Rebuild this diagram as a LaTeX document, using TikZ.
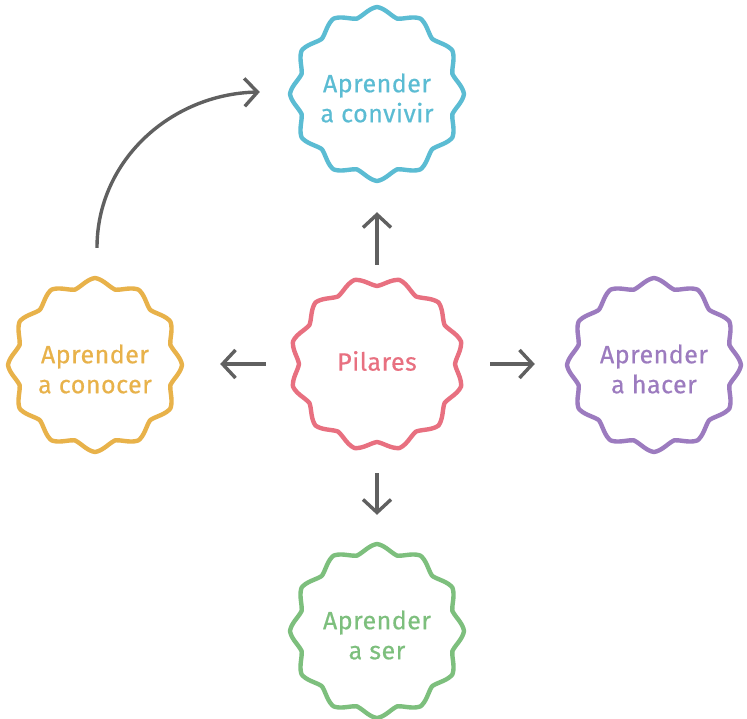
\documentclass[tikz,border=0pt]{standalone}
\usepackage{fontspec}
\setmainfont{Fira Sans}[LetterSpace=2,FakeBold=0.5]
\usetikzlibrary{arrows.meta,calc}
\definecolor{pinkc}{RGB}{232,112,128}
\definecolor{cyanc}{RGB}{91,188,211}
\definecolor{goldc}{RGB}{232,178,74}
\definecolor{purplec}{RGB}{156,123,191}
\definecolor{greenc}{RGB}{125,191,125}
\definecolor{arrowc}{RGB}{96,96,96}
\newcommand\txtshift[2]{\raisebox{#1}[\height][\depth]{#2}}
\begin{document}
\begin{tikzpicture}[x=1pt,y=-1pt,
  label/.style={circle, minimum size=176pt, inner sep=0pt, align=center,
    font=\fontsize{25}{30}\selectfont},
  cloudline/.style={line width=4.4pt, line join=round},
  arr/.style={draw=arrowc, line width=3.4pt,
    -{Straight Barb[length=13pt,width=28pt]}},
  declare function={
    scwave(\a,\o)=0.55*cos(12*(\a+\o))+0.45*(2*abs(2*frac((\a+\o)/30)-1)-1);
    scrad(\a,\o)=82.5+4.5*scwave(\a,\o);}]
\useasboundingbox (0,0) rectangle (747,719);
\fill[white] (0,0) rectangle (747,719);
% nodes
\node[label, text=pinkc]   (p) at (377,364) {\txtshift{3pt}{Pilares}};
\node[label, text=cyanc]   (t) at (377,94)  {\txtshift{-4pt}{Aprender}\\\txtshift{-4pt}{a convivir}};
\node[label, text=goldc]   (l) at (95,365)  {\txtshift{-4pt}{Aprender}\\\txtshift{-4pt}{a conocer}};
\node[label, text=purplec] (r) at (654,365) {\txtshift{-4pt}{Aprender}\\\txtshift{-4pt}{a hacer}};
\node[label, text=greenc]  (b) at (377,631) {\txtshift{-4pt}{Aprender}\\\txtshift{-4pt}{a ser}};
% clouds
\foreach \n/\c/\o in {p/pinkc/15, t/cyanc/0, l/goldc/0, r/purplec/0, b/greenc/0}{
  \draw[cloudline, \c, shift={(\n.center)}] plot[domain=0:359, samples=360, variable=\t]
    ({scrad(\t,\o)*cos(\t)}, {scrad(\t,\o)*sin(\t)}) -- cycle;
}
% arrows
\draw[arr, shorten <=11pt, shorten >=30pt] (p.north) -- (p.north |- t.south);
\draw[arr, shorten <=23pt, shorten >=37pt] (p.west) -- (p.west -| l.east);
\draw[arr, shorten <=25pt, shorten >=31pt] (p.east) -- (p.east -| r.west);
\draw[arr, shorten <=21pt, shorten >=28pt] (p.south) -- (p.south |- b.north);
\coordinate (cs) at ($(l.north)+(2,-29)$);
\coordinate (ce) at ($(t.west)+(-29,-2)$);
\draw[arr] (cs) .. controls +(0,-88) and +(-88,2) .. (ce);
\end{tikzpicture}
\end{document}
